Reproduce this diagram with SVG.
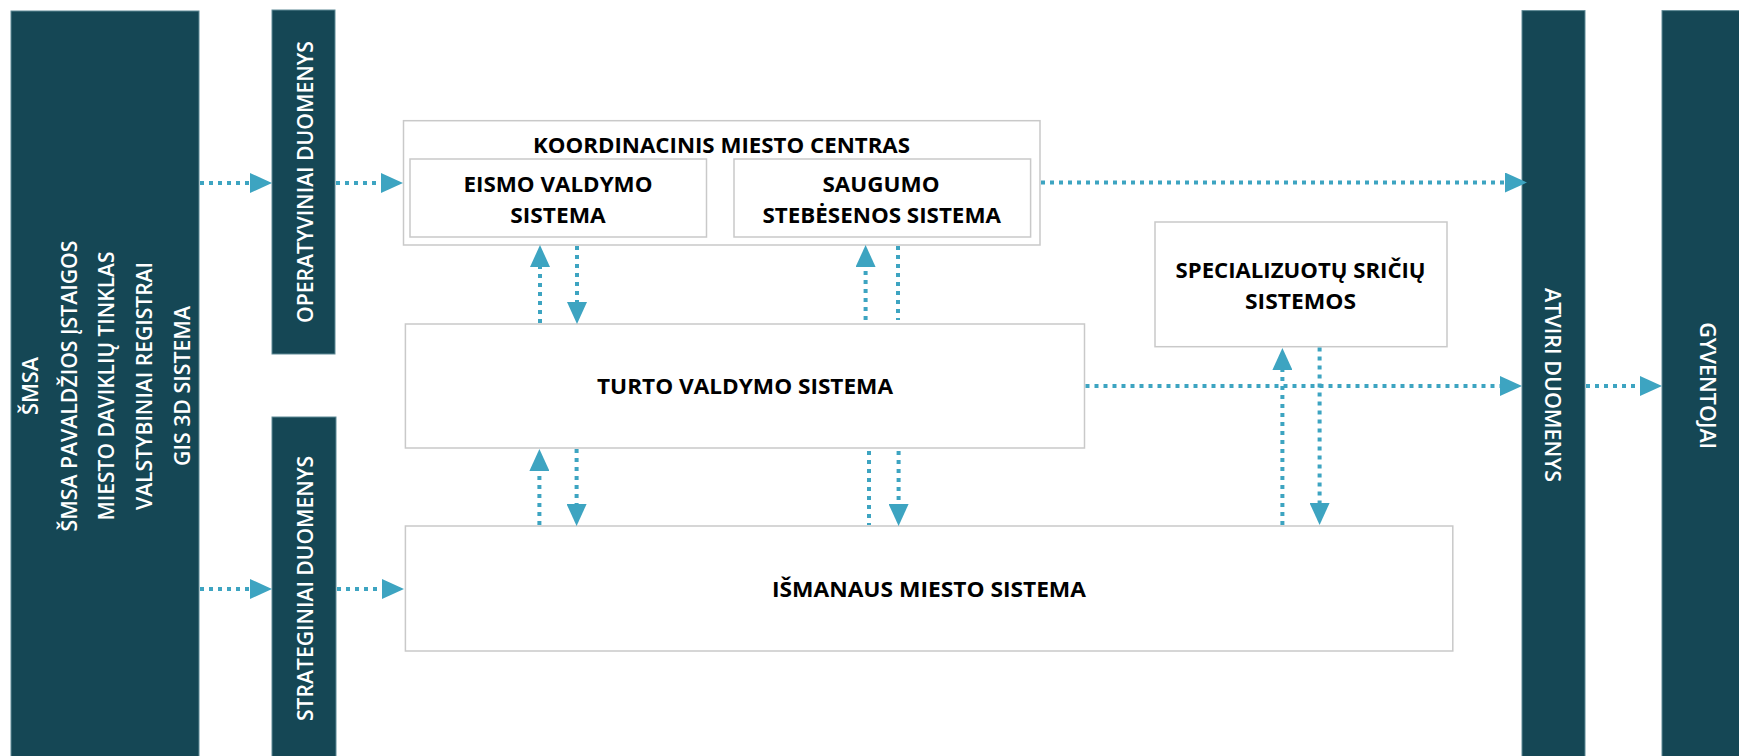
<svg xmlns="http://www.w3.org/2000/svg" width="1739" height="756" viewBox="0 0 1739 756">
<style>
.bar{fill:#154755;stroke:#5f8a96;stroke-width:1}
.box{fill:#ffffff;stroke:#c9c9c9;stroke-width:1.5}
.wt{font-family:"Open Sans","DejaVu Sans",sans-serif;font-weight:600;font-size:21px;fill:#ffffff;text-anchor:middle}
.bt{font-family:"Open Sans","DejaVu Sans",sans-serif;font-weight:700;font-size:22px;fill:#000000;text-anchor:middle}
.c{stroke:#3da4c1;stroke-width:4;stroke-dasharray:4 5;fill:none}
.ca{stroke:#3da4c1;stroke-width:4;stroke-dasharray:4 5;fill:none;marker-end:url(#ah)}
</style>
<defs>
<marker id="ah" markerUnits="userSpaceOnUse" markerWidth="22" markerHeight="20" refX="0" refY="10" orient="auto" viewBox="0 0 22 20">
<path d="M0,0 L22,10 L0,20 z" fill="#3da4c1"/>
</marker>
</defs>
<rect x="0" y="0" width="1739" height="756" fill="#ffffff"/>

<g id="sources">
<rect class="bar" x="11" y="11" width="188" height="760"/>
<text class="wt" transform="translate(38.3,386) rotate(-90)" textLength="58" lengthAdjust="spacingAndGlyphs">ŠMSA</text>
<text class="wt" transform="translate(76.7,386) rotate(-90)" textLength="291" lengthAdjust="spacingAndGlyphs">ŠMSA PAVALDŽIOS ĮSTAIGOS</text>
<text class="wt" transform="translate(114,386) rotate(-90)" textLength="269" lengthAdjust="spacingAndGlyphs">MIESTO DAVIKLIŲ TINKLAS</text>
<text class="wt" transform="translate(152.3,386) rotate(-90)" textLength="248" lengthAdjust="spacingAndGlyphs">VALSTYBINIAI REGISTRAI</text>
<text class="wt" transform="translate(190,386) rotate(-90)" textLength="160" lengthAdjust="spacingAndGlyphs">GIS 3D SISTEMA</text>
</g>

<g id="operatyviniai">
<rect class="bar" x="272" y="10" width="63" height="344"/>
<text class="wt" transform="translate(313.3,182) rotate(-90)" textLength="282" lengthAdjust="spacingAndGlyphs">OPERATYVINIAI DUOMENYS</text>
</g>

<g id="strateginiai">
<rect class="bar" x="272" y="417" width="64" height="350"/>
<text class="wt" transform="translate(313.3,588.5) rotate(-90)" textLength="265" lengthAdjust="spacingAndGlyphs">STRATEGINIAI DUOMENYS</text>
</g>

<g id="kmc">
<rect class="box" x="403.5" y="120.7" width="636.5" height="124.3"/>
<text class="bt" x="721.5" y="152.7" textLength="377" lengthAdjust="spacingAndGlyphs">KOORDINACINIS MIESTO CENTRAS</text>
</g>

<g id="eismo">
<rect class="box" x="410" y="159" width="296.5" height="78"/>
<text class="bt" x="558" y="191.7" textLength="189" lengthAdjust="spacingAndGlyphs">EISMO VALDYMO</text>
<text class="bt" x="558" y="223.3" textLength="95.5" lengthAdjust="spacingAndGlyphs">SISTEMA</text>
</g>

<g id="saugumo">
<rect class="box" x="734" y="159" width="296.6" height="78"/>
<text class="bt" x="881" y="191.7" textLength="117" lengthAdjust="spacingAndGlyphs">SAUGUMO</text>
<text class="bt" x="881.7" y="223.3" textLength="238.5" lengthAdjust="spacingAndGlyphs">STEBĖSENOS SISTEMA</text>
</g>

<g id="specializuotu">
<rect class="box" x="1155" y="222" width="292" height="124.7"/>
<text class="bt" x="1300.6" y="277.7" textLength="250" lengthAdjust="spacingAndGlyphs">SPECIALIZUOTŲ SRIČIŲ</text>
<text class="bt" x="1300.5" y="309.3" textLength="111" lengthAdjust="spacingAndGlyphs">SISTEMOS</text>
</g>

<g id="turto">
<rect class="box" x="405.4" y="324" width="679.1" height="124"/>
<text class="bt" x="745" y="394" textLength="296" lengthAdjust="spacingAndGlyphs">TURTO VALDYMO SISTEMA</text>
</g>

<g id="ismanaus">
<rect class="box" x="405.4" y="526" width="1047.4" height="125"/>
<text class="bt" x="929" y="596.7" textLength="314" lengthAdjust="spacingAndGlyphs">IŠMANAUS MIESTO SISTEMA</text>
</g>

<g id="atviri">
<rect class="bar" x="1522" y="10.6" width="63" height="760"/>
<text class="wt" transform="translate(1545,385) rotate(90)" textLength="194" lengthAdjust="spacingAndGlyphs">ATVIRI DUOMENYS</text>
</g>

<g id="gyventojai">
<rect class="bar" x="1662" y="10.6" width="100" height="760"/>
<text class="wt" transform="translate(1700,385.7) rotate(90)" textLength="127" lengthAdjust="spacingAndGlyphs">GYVENTOJAI</text>
</g>

<g id="connectors">
<line class="ca" x1="200" y1="183" x2="250" y2="183"/>
<line class="ca" x1="336" y1="183" x2="381" y2="183"/>
<line class="ca" x1="200" y1="589" x2="250" y2="589"/>
<line class="ca" x1="337" y1="589" x2="382" y2="589"/>
<line class="ca" x1="1041" y1="182.5" x2="1505" y2="182.5"/>
<line class="ca" x1="1085.5" y1="386" x2="1500" y2="386"/>
<line class="ca" x1="1586" y1="386" x2="1640" y2="386"/>
<line class="ca" x1="540" y1="323" x2="540" y2="267"/>
<line class="ca" x1="577" y1="246" x2="577" y2="302"/>
<line class="ca" x1="865.6" y1="320" x2="865.6" y2="267"/>
<line class="c" x1="898" y1="246" x2="898" y2="320"/>
<line class="ca" x1="539.4" y1="525" x2="539.4" y2="471"/>
<line class="ca" x1="576.6" y1="449" x2="576.6" y2="504"/>
<line class="c" x1="869" y1="451" x2="869" y2="525"/>
<line class="ca" x1="898.6" y1="451" x2="898.6" y2="504"/>
<line class="ca" x1="1282.4" y1="525" x2="1282.4" y2="370"/>
<line class="ca" x1="1319.6" y1="347.5" x2="1319.6" y2="503"/>
</g>
</svg>
